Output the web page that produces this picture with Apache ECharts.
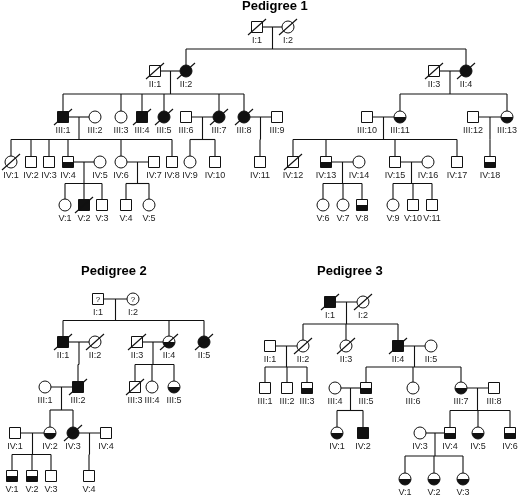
<!DOCTYPE html>
<html>
<head>
<meta charset="utf-8">
<title>Pedigrees</title>
<script src="https://cdn.jsdelivr.net/npm/echarts@6/dist/echarts.min.js"></script>
<style>
  html, body { margin: 0; padding: 0; background: #fff; }
  #chart { width: 520px; height: 497px; }
</style>
</head>
<body>
<div id="chart"></div>
<script>
// ── Data ────────────────────────────────────────────────────────────────────
// person: [label, x, generation, sex (m/f), status (n none, a affected, h half, u unknown), deceased]
var titles = ['Pedigree 1', 'Pedigree 2', 'Pedigree 3'];

var ped1GenY = [27, 71, 117, 162, 205];
var ped1People = [
  ['I:1', 257, 1, 'm', 'n', 1], ['I:2', 288, 1, 'f', 'n', 1],
  ['II:1', 155, 2, 'm', 'n', 1], ['II:2', 186, 2, 'f', 'a', 1],
  ['II:3', 434, 2, 'm', 'n', 1], ['II:4', 466, 2, 'f', 'a', 1],
  ['III:1', 63, 3, 'm', 'a', 1], ['III:2', 95, 3, 'f', 'n', 0],
  ['III:3', 121, 3, 'f', 'n', 0], ['III:4', 142, 3, 'm', 'a', 1],
  ['III:5', 164, 3, 'f', 'a', 1], ['III:6', 186, 3, 'm', 'n', 0],
  ['III:7', 219, 3, 'f', 'a', 1], ['III:8', 244, 3, 'f', 'a', 1],
  ['III:9', 277, 3, 'm', 'n', 0], ['III:10', 367, 3, 'm', 'n', 0],
  ['III:11', 400, 3, 'f', 'h', 0], ['III:12', 473, 3, 'm', 'n', 0],
  ['III:13', 507, 3, 'f', 'h', 0],
  ['IV:1', 11, 4, 'f', 'n', 1], ['IV:2', 31, 4, 'm', 'n', 0],
  ['IV:3', 49, 4, 'm', 'n', 0], ['IV:4', 68, 4, 'm', 'h', 0],
  ['IV:5', 100, 4, 'f', 'n', 0], ['IV:6', 121, 4, 'f', 'n', 0],
  ['IV:7', 154, 4, 'm', 'n', 0], ['IV:8', 172, 4, 'm', 'n', 0],
  ['IV:9', 190, 4, 'f', 'n', 0], ['IV:10', 215, 4, 'm', 'n', 0],
  ['IV:11', 260, 4, 'm', 'n', 0], ['IV:12', 293, 4, 'm', 'n', 1],
  ['IV:13', 326, 4, 'm', 'h', 0], ['IV:14', 359, 4, 'f', 'n', 0],
  ['IV:15', 395, 4, 'm', 'n', 0], ['IV:16', 428, 4, 'f', 'n', 0],
  ['IV:17', 457, 4, 'm', 'n', 0], ['IV:18', 490, 4, 'm', 'h', 0],
  ['V:1', 65, 5, 'f', 'n', 0], ['V:2', 84, 5, 'm', 'a', 1],
  ['V:3', 102, 5, 'm', 'n', 0], ['V:4', 126, 5, 'm', 'n', 0],
  ['V:5', 149, 5, 'f', 'n', 0], ['V:6', 323, 5, 'f', 'n', 0],
  ['V:7', 343, 5, 'f', 'n', 0], ['V:8', 362, 5, 'm', 'h', 0],
  ['V:9', 393, 5, 'f', 'n', 0], ['V:10', 413, 5, 'm', 'n', 0],
  ['V:11', 432, 5, 'm', 'n', 0]
];
// family: [parent, parent, children]
var ped1Families = [
  ['I:1', 'I:2', ['II:2', 'II:4']],
  ['II:1', 'II:2', ['III:1', 'III:3', 'III:4', 'III:5', 'III:7', 'III:8']],
  ['II:3', 'II:4', ['III:11', 'III:13']],
  ['III:1', 'III:2', ['IV:1', 'IV:2', 'IV:3', 'IV:4', 'IV:6', 'IV:8']],
  ['III:6', 'III:7', ['IV:9', 'IV:10']],
  ['III:8', 'III:9', ['IV:11']],
  ['III:10', 'III:11', ['IV:12', 'IV:13', 'IV:15', 'IV:17']],
  ['III:12', 'III:13', ['IV:18']],
  ['IV:4', 'IV:5', ['V:1', 'V:2', 'V:3']],
  ['IV:6', 'IV:7', ['V:4', 'V:5']],
  ['IV:13', 'IV:14', ['V:6', 'V:7', 'V:8']],
  ['IV:15', 'IV:16', ['V:9', 'V:10', 'V:11']]
];

var ped2GenY = [299, 342, 387, 433, 476];
var ped2People = [
  ['I:1', 98, 1, 'm', 'u', 0], ['I:2', 133, 1, 'f', 'u', 0],
  ['II:1', 63, 2, 'm', 'a', 1], ['II:2', 95, 2, 'f', 'n', 1],
  ['II:3', 137, 2, 'm', 'n', 1], ['II:4', 169, 2, 'f', 'h', 1],
  ['II:5', 204, 2, 'f', 'a', 1],
  ['III:1', 45, 3, 'f', 'n', 0], ['III:2', 78, 3, 'm', 'a', 1],
  ['III:3', 135, 3, 'm', 'n', 1], ['III:4', 152, 3, 'f', 'n', 0],
  ['III:5', 174, 3, 'f', 'h', 0],
  ['IV:1', 15, 4, 'm', 'n', 0], ['IV:2', 50, 4, 'f', 'h', 0],
  ['IV:3', 73, 4, 'f', 'a', 1], ['IV:4', 106, 4, 'm', 'n', 0],
  ['V:1', 12, 5, 'm', 'h', 0], ['V:2', 32, 5, 'm', 'h', 0],
  ['V:3', 51, 5, 'm', 'n', 0], ['V:4', 89, 5, 'm', 'n', 0]
];
var ped2Families = [
  ['I:1', 'I:2', ['II:1', 'II:4', 'II:5']],
  ['II:1', 'II:2', ['III:2']],
  ['II:3', 'II:4', ['III:3', 'III:4', 'III:5']],
  ['III:1', 'III:2', ['IV:2', 'IV:3']],
  ['IV:1', 'IV:2', ['V:1', 'V:2', 'V:3']],
  ['IV:3', 'IV:4', ['V:4']]
];

var ped3GenY = [302, 346, 388, 433, 479];
var ped3People = [
  ['I:1', 330, 1, 'm', 'a', 1], ['I:2', 363, 1, 'f', 'n', 1],
  ['II:1', 270, 2, 'm', 'n', 0], ['II:2', 303, 2, 'f', 'n', 1],
  ['II:3', 346, 2, 'f', 'n', 1], ['II:4', 398, 2, 'm', 'a', 1],
  ['II:5', 431, 2, 'f', 'n', 0],
  ['III:1', 265, 3, 'm', 'n', 0], ['III:2', 287, 3, 'm', 'n', 0],
  ['III:3', 307, 3, 'm', 'h', 0], ['III:4', 335, 3, 'f', 'n', 0],
  ['III:5', 366, 3, 'm', 'h', 0], ['III:6', 413, 3, 'f', 'n', 0],
  ['III:7', 461, 3, 'f', 'h', 0], ['III:8', 494, 3, 'm', 'n', 0],
  ['IV:1', 337, 4, 'f', 'h', 0], ['IV:2', 363, 4, 'm', 'a', 0],
  ['IV:3', 420, 4, 'f', 'n', 0], ['IV:4', 450, 4, 'm', 'h', 0],
  ['IV:5', 478, 4, 'f', 'h', 0], ['IV:6', 510, 4, 'm', 'h', 0],
  ['V:1', 405, 5, 'f', 'h', 0], ['V:2', 434, 5, 'f', 'h', 0],
  ['V:3', 463, 5, 'f', 'h', 0]
];
var ped3Families = [
  ['I:1', 'I:2', ['II:2', 'II:3', 'II:4']],
  ['II:1', 'II:2', ['III:1', 'III:2', 'III:3']],
  ['II:4', 'II:5', ['III:5', 'III:6', 'III:7']],
  ['III:4', 'III:5', ['IV:1', 'IV:2']],
  ['III:7', 'III:8', ['IV:4', 'IV:5', 'IV:6']],
  ['IV:3', 'IV:4', ['V:1', 'V:2', 'V:3']]
];

(function () {
  'use strict';

  var S = 11;          // symbol size in px
  var INK = '#111';
  var FONT = '"Liberation Sans", Arial, sans-serif';

  var pedigrees = [
    { people: ped1People, families: ped1Families, genY: ped1GenY },
    { people: ped2People, families: ped2Families, genY: ped2GenY },
    { people: ped3People, families: ped3Families, genY: ped3GenY }
  ];

  // ── Connector segments (marriage, descent, sibship, child drops) ──────────

  function buildSegments(ped) {
    var byLabel = {};
    ped.people.forEach(function (p) { byLabel[p[0]] = p; });
    var segs = [];
    ped.families.forEach(function (f) {
      var a = byLabel[f[0]], b = byLabel[f[1]];
      var y = ped.genY[a[2] - 1];
      var left = Math.min(a[1], b[1]), right = Math.max(a[1], b[1]);
      segs.push([left, y, right, y]);
      var mid = (a[1] + b[1]) / 2;
      var kids = f[2].map(function (k) { return byLabel[k]; });
      var kidY = ped.genY[kids[0][2] - 1];
      var sibY = (y + kidY) / 2;
      segs.push([mid, y, mid, sibY]);
      var xs = kids.map(function (k) { return k[1]; }).concat([mid]);
      segs.push([Math.min.apply(null, xs), sibY, Math.max.apply(null, xs), sibY]);
      kids.forEach(function (k) { segs.push([k[1], sibY, k[1], kidY]); });
    });
    return segs;
  }

  function renderSegment(params, api) {
    var p1 = api.coord([api.value(0), api.value(1)]);
    var p2 = api.coord([api.value(2), api.value(3)]);
    return {
      type: 'line',
      shape: { x1: p1[0], y1: p1[1], x2: p2[0], y2: p2[1] },
      style: { stroke: INK, lineWidth: 1.1 }
    };
  }

  // ── Individuals ───────────────────────────────────────────────────────────

  function makeRenderPerson(people) {
    return function (params, api) {
      var p = people[params.dataIndex];
      var c = api.coord([api.value(0), api.value(1)]);
      var h = S / 2;
      var male = p[3] === 'm';
      var items = [];
      var outline = male
        ? { type: 'rect', shape: { x: c[0] - h, y: c[1] - h, width: S, height: S } }
        : { type: 'circle', shape: { cx: c[0], cy: c[1], r: h + 0.5 } };
      outline.style = { fill: p[4] === 'a' ? INK : '#fff', stroke: INK, lineWidth: 1 };
      items.push(outline);

      if (p[4] === 'h') {
        items.push(male
          ? { type: 'rect', shape: { x: c[0] - h, y: c[1], width: S, height: h }, style: { fill: INK } }
          : { type: 'sector', shape: { cx: c[0], cy: c[1], r0: 0, r: h + 0.5, startAngle: 0, endAngle: Math.PI, clockwise: true }, style: { fill: INK } });
      }
      if (p[4] === 'u') {
        items.push({
          type: 'text',
          style: { x: c[0], y: c[1] + 0.5, text: '?', align: 'center', verticalAlign: 'middle', fontSize: 8, fontFamily: FONT, fill: INK }
        });
      }
      if (p[5]) {
        items.push({
          type: 'line',
          shape: { x1: c[0] - 9, y1: c[1] + 8, x2: c[0] + 9, y2: c[1] - 8 },
          style: { stroke: INK, lineWidth: 1.1 }
        });
      }
      items.push({
        type: 'text',
        style: { x: c[0], y: c[1] + 13.5, text: p[0], align: 'center', verticalAlign: 'middle', fontSize: 9, fontFamily: FONT, fill: '#222' }
      });
      return { type: 'group', children: items };
    };
  }

  // ── Option ───────────────────────────────────────────────────────────────

  var titlePos = [[242, 0], [81, 265], [317, 265]];
  var series = [];

  pedigrees.forEach(function (ped) {
    series.push({
      type: 'custom',
      coordinateSystem: 'cartesian2d',
      silent: true,
      renderItem: renderSegment,
      encode: { x: [0, 2], y: [1, 3] },
      data: buildSegments(ped),
      z: 1
    });
    series.push({
      type: 'custom',
      coordinateSystem: 'cartesian2d',
      silent: true,
      renderItem: makeRenderPerson(ped.people),
      encode: { x: 0, y: 1 },
      data: ped.people.map(function (p) { return [p[1], ped.genY[p[2] - 1]]; }),
      z: 2
    });
  });

  var chart = echarts.init(document.getElementById('chart'), null, { renderer: 'canvas' });
  chart.setOption({
    backgroundColor: '#fff',
    animation: false,
    title: titles.map(function (t, i) {
      return {
        text: t, left: titlePos[i][0], top: titlePos[i][1], padding: 0,
        textStyle: { fontSize: 13, fontWeight: 'bold', color: '#000', fontFamily: FONT }
      };
    }),
    grid: { left: 0, right: 0, top: 0, bottom: 0 },
    xAxis: { type: 'value', min: 0, max: 520, show: false },
    yAxis: { type: 'value', min: 0, max: 497, inverse: true, show: false },
    series: series
  });
})();
</script>
</body>
</html>
